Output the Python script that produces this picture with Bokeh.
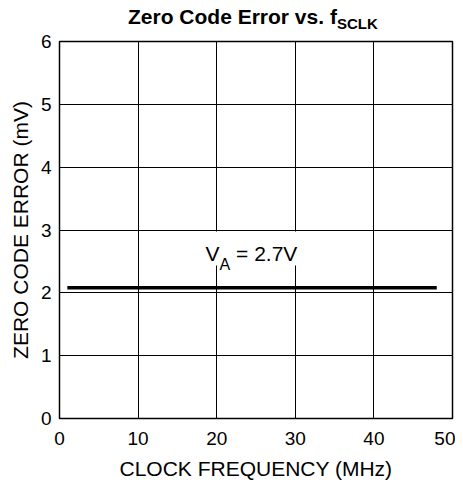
from bokeh.plotting import figure
from bokeh.models import Label, BoxAnnotation, FixedTicker, Div
from bokeh.layouts import column
from bokeh.embed import file_html
from bokeh.resources import INLINE

# Data
clock_mhz = [1, 5, 10, 20, 30, 40, 48]
zero_code_error_mv = [2.08, 2.08, 2.08, 2.08, 2.08, 2.08, 2.08]
x_ticks = [0, 10, 20, 30, 40, 50]
y_ticks = [0, 1, 2, 3, 4, 5, 6]

FONT = "Liberation Sans"

title = Div(
    text=('<div style="padding-left:128px;padding-top:6px;'
          'font-family:\'Liberation Sans\';font-weight:bold;font-size:21px;'
          'line-height:21px;white-space:nowrap;color:black">'
          'Zero Code Error vs. f<span style="font-size:15px;position:relative;'
          'top:5px">SCLK</span></div>'),
    width=455, height=29, margin=(0, 0, 0, 0))

p = figure(width=455, height=453, x_range=(0, 50), y_range=(0, 6),
           output_backend="svg", toolbar_location=None,
           min_border_left=59, min_border_right=3, min_border_top=12,
           min_border_bottom=64, margin=(0, 0, 0, 0))

p.line(clock_mhz, zero_code_error_mv, line_color="black", line_width=3.5)

for ax in (p.xaxis, p.yaxis):
    ax.axis_line_color = None
    ax.major_tick_line_color = None
    ax.minor_tick_line_color = None
    ax.major_tick_in = 0
    ax.major_tick_out = 0
    ax.major_label_text_font = FONT
    ax.major_label_text_font_size = "19px"
    ax.major_label_text_color = "black"
    ax.axis_label_text_font = FONT
    ax.axis_label_text_font_size = "21px"
    ax.axis_label_text_font_style = "normal"
    ax.axis_label_text_color = "black"

p.xaxis.ticker = FixedTicker(ticks=x_ticks)
p.yaxis.ticker = FixedTicker(ticks=y_ticks)
p.xaxis.axis_label = "CLOCK FREQUENCY (MHz)"
p.yaxis.axis_label = "ZERO CODE ERROR (mV)"
p.xaxis.major_label_standoff = 13
p.yaxis.major_label_standoff = 8
p.xaxis.axis_label_standoff = 9
p.yaxis.axis_label_standoff = 6

p.xgrid.ticker = FixedTicker(ticks=x_ticks)
p.ygrid.ticker = FixedTicker(ticks=y_ticks)
for g in (p.xgrid, p.ygrid):
    g.grid_line_color = "black"
    g.grid_line_width = 1
    g.grid_line_alpha = 1

p.outline_line_color = "black"
p.outline_line_width = 1.5
p.outline_line_alpha = 1
p.background_fill_color = "white"
p.border_fill_color = "white"

# white box behind the annotation
p.add_layout(BoxAnnotation(left=17.94, right=30.53, bottom=2.435, top=2.976,
                           fill_color="white", fill_alpha=1, line_color=None))
p.add_layout(Label(x=18.58, y=2.626, text="V", text_font=FONT,
                   text_font_size="21px", text_baseline="alphabetic",
                   text_color="black"))
p.add_layout(Label(x=20.36, y=2.451, text="A", text_font=FONT,
                   text_font_size="16px", text_baseline="alphabetic",
                   text_color="black"))
p.add_layout(Label(x=22.46, y=2.626, text="= 2.7V", text_font=FONT,
                   text_font_size="21px", text_baseline="alphabetic",
                   text_color="black"))

layout = column(title, p, spacing=0)
open("out.html", "w").write(file_html(layout, INLINE))
